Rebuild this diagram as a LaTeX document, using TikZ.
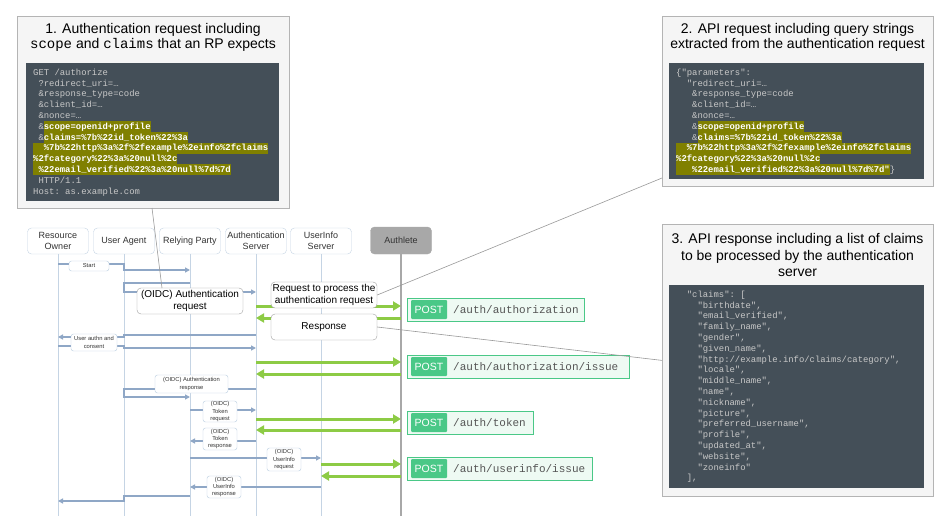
\documentclass[tikz,border=0pt]{standalone}
\usepackage{fontspec}
\setmainfont{Liberation Sans}
\setmonofont{Liberation Mono}
\usetikzlibrary{arrows.meta}
\definecolor{lifec}{HTML}{C5D4E4}
\definecolor{lblc}{HTML}{B8CCE0}
\definecolor{msgc}{HTML}{8FA7C6}
\definecolor{grn}{HTML}{8DCB45}
\definecolor{postc}{HTML}{4AC887}
\definecolor{postbg}{HTML}{EEFAF3}
\definecolor{codebg}{HTML}{444F58}
\definecolor{codetx}{HTML}{C8C8C8}
\definecolor{hlc}{HTML}{808000}
\definecolor{calbg}{HTML}{F5F5F5}
\definecolor{calbd}{HTML}{B4B4B4}
\definecolor{alc}{HTML}{A8A8A8}
\definecolor{txt}{HTML}{333333}
\definecolor{pathtx}{HTML}{555555}
\newcommand\cst{\rule[-2.75pt]{0pt}{10.8pt}}
\newcommand\hlt[1]{{\setlength{\fboxsep}{0pt}\colorbox{hlc}{\cst\textcolor{white}{\bfseries #1}}}}
\newcommand\cind[1]{\hspace*{#1\dimexpr0.6em\relax}}
\begin{document}
\begin{tikzpicture}[x=1pt,y=-1pt,
  part/.style={draw=lifec,fill=white,rounded corners=4pt,minimum width=61pt,minimum height=26pt,align=center,font=\fontsize{9}{10.5}\selectfont,text=txt,inner sep=1pt},
  life/.style={draw=lifec,line width=0.8pt},
  alife/.style={draw=alc,line width=2.5pt},
  msg/.style={draw=msgc,line width=1.8pt,-{Triangle[length=5pt,width=5pt]}},
  gmsg/.style={draw=grn,line width=3pt,-{Triangle[length=8pt,width=9pt]}},
  lbl/.style={draw=lblc,fill=white,rounded corners=2.5pt,align=center,font=\fontsize{5.8}{7.3}\selectfont,text=txt,inner sep=0.5pt},
  biglbl/.style={draw=gray!75,fill=white,rounded corners=4pt,align=center,font=\fontsize{10}{12}\selectfont,text=black,inner sep=1pt,minimum width=106pt,minimum height=26pt},
  postbox/.style={draw=postc,fill=postbg,line width=0.8pt,minimum height=23pt,anchor=west,inner sep=0pt},
  posttag/.style={fill=postc,text=white,font=\fontsize{10.5}{12}\selectfont,minimum width=36pt,minimum height=19pt,inner sep=0pt,rounded corners=1pt},
  postpath/.style={anchor=west,inner sep=0pt,font=\ttfamily\fontsize{11}{13}\selectfont,text=pathtx},
  pointer/.style={draw=gray!80,line width=0.6pt},
  callout/.style={draw=calbd,fill=calbg,line width=0.8pt,anchor=north west,inner sep=0pt},
  codebox/.style={fill=codebg,anchor=north west,inner sep=0pt},
  code/.style={anchor=north west,inner sep=0pt,align=left,font=\ttfamily\fontsize{8.9}{10.8}\selectfont,text=codetx},
  title/.style={align=center,font=\fontsize{14}{15}\selectfont,text=black,inner sep=0pt}
]
\fill[white] (0,0) rectangle (951,516);
\useasboundingbox (0,0) rectangle (951,516);

% participants
\node[part] (ro) at (58,241) {Resource\\Owner};
\node[part] (ua) at (124,241) {User Agent};
\node[part] (rp) at (190,241) {Relying Party};
\node[part] (as) at (256,241) {Authentication\\Server};
\node[part] (ui) at (321,241) {UserInfo\\Server};
\node[part,fill=alc,draw=alc,minimum height=27pt] (al) at (401,240.5) {Authlete};

% lifelines
\coordinate (roB) at (58,516);
\coordinate (uaB) at (124,516);
\coordinate (rpB) at (190,516);
\coordinate (asB) at (256,516);
\coordinate (uiB) at (321,516);
\coordinate (alB) at (401,516);
\draw[life] (ro.south) -- (roB);
\draw[life] (ua.south) -- (uaB);
\draw[life] (rp.south) -- (rpB);
\draw[life] (as.south) -- (asB);
\draw[life] (ui.south) -- (uiB);
\draw[alife] (al.south) -- (alB);

% Start
\coordinate (s1) at (58,264); \coordinate (s2) at (124,264);
\coordinate (s3) at (124,270); \coordinate (s4) at (190,270);
\draw[msg] (s1) -- (s2) -- (s3) -- (s4);
% Authentication request
\coordinate (a1) at (190,283); \coordinate (a2) at (124,283);
\coordinate (a3) at (124,292); \coordinate (a4) at (256,292);
\draw[msg] (a1) -- (a2) -- (a3) -- (a4);
% green 1
\coordinate (g1a) at (256,306); \coordinate (g1b) at (401,306);
\coordinate (g1c) at (401,318); \coordinate (g1d) at (256,318);
\draw[gmsg] (g1a) -- (g1b);
\draw[gmsg] (g1c) -- (g1d);
% user authn and consent
\coordinate (u1) at (256,335); \coordinate (u2) at (124,335);
\coordinate (u3) at (124,337); \coordinate (u4) at (58,337);
\draw[msg] (u1) -- (u2) -- (u3) -- (u4);
\coordinate (v1) at (58,346); \coordinate (v2) at (124,346);
\coordinate (v3) at (124,348); \coordinate (v4) at (256,348);
\draw[msg] (v1) -- (v2) -- (v3) -- (v4);
% green 2
\coordinate (g2a) at (256,362); \coordinate (g2b) at (401,362);
\coordinate (g2c) at (401,374); \coordinate (g2d) at (256,374);
\draw[gmsg] (g2a) -- (g2b);
\draw[gmsg] (g2c) -- (g2d);
% authentication response
\coordinate (r1) at (256,389); \coordinate (r2) at (124,389);
\coordinate (r3) at (124,397); \coordinate (r4) at (190,397);
\draw[msg] (r1) -- (r2) -- (r3) -- (r4);
% token request
\coordinate (t1) at (190,410); \coordinate (t2) at (256,410);
\draw[msg] (t1) -- (t2);
% green 3
\coordinate (g3a) at (256,419); \coordinate (g3b) at (401,419);
\coordinate (g3c) at (401,430); \coordinate (g3d) at (256,430);
\draw[gmsg] (g3a) -- (g3b);
\draw[gmsg] (g3c) -- (g3d);
% token response
\coordinate (tr1) at (256,441); \coordinate (tr2) at (190,441);
\draw[msg] (tr1) -- (tr2);
% userinfo request
\coordinate (q1) at (190,458); \coordinate (q2) at (321,458);
\draw[msg] (q1) -- (q2);
% green 4
\coordinate (g4a) at (321,464); \coordinate (g4b) at (401,464);
\coordinate (g4c) at (401,476); \coordinate (g4d) at (321,476);
\draw[gmsg] (g4a) -- (g4b);
\draw[gmsg] (g4c) -- (g4d);
% userinfo response
\coordinate (qr1) at (321,487); \coordinate (qr2) at (190,487);
\draw[msg] (qr1) -- (qr2);
% final
\coordinate (f1) at (190,496); \coordinate (f2) at (124,496);
\coordinate (f3) at (124,501); \coordinate (f4) at (58,501);
\draw[msg] (f1) -- (f2) -- (f3) -- (f4);

% small labels
\node[lbl,minimum width=40pt,minimum height=10pt] (lstart) at (89,266) {Start};
\node[lbl,minimum width=46pt,minimum height=17pt] (lauthn) at (94,342.5) {User authn and\\consent};
\node[lbl,minimum width=73pt,minimum height=18pt] (lares) at (191.5,384) {(OIDC) Authentication\\response};
\node[lbl,minimum width=34pt,minimum height=21pt] (ltreq) at (220,411.5) {(OIDC)\\Token\\request};
\node[lbl,minimum width=34pt,minimum height=22pt] (ltres) at (220,439) {(OIDC)\\Token\\response};
\node[lbl,minimum width=34pt,minimum height=23pt] (luireq) at (284,459.5) {(OIDC)\\UserInfo\\request};
\node[lbl,minimum width=34pt,minimum height=22pt] (luires) at (224,487) {(OIDC)\\UserInfo\\response};

% big labels
\node[biglbl] (areq) at (190,301) {(OIDC) Authentication\\request};
\node[biglbl] (rqp) at (324,295) {Request to process the\\authentication request};
\node[biglbl] (resp) at (324,327) {Response};

% POST boxes
\node[postbox,minimum width=177pt] (p1) at (407,309.5) {};
\node[posttag] (p1t) at (429,309.5) {POST};
\node[postpath] (p1p) at (453,309.5) {/auth/authorization};
\node[postbox,minimum width=222pt] (p2) at (407,366.5) {};
\node[posttag] (p2t) at (429,366.5) {POST};
\node[postpath] (p2p) at (453,366.5) {/auth/authorization/issue};
\node[postbox,minimum width=126pt] (p3) at (407,422.5) {};
\node[posttag] (p3t) at (429,422.5) {POST};
\node[postpath] (p3p) at (453,422.5) {/auth/token};
\node[postbox,minimum width=185pt] (p4) at (407,468.5) {};
\node[posttag] (p4t) at (429,468.5) {POST};
\node[postpath] (p4p) at (453,468.5) {/auth/userinfo/issue};

% callouts
\node[callout,minimum width=272pt,minimum height=192pt] (call1) at (17,16) {};
\node[callout,minimum width=271pt,minimum height=170pt] (call2) at (662,16) {};
\node[callout,minimum width=271pt,minimum height=272pt] (call3) at (662,224) {};

% pointers
\coordinate (areqtop) at (162,288);
\coordinate (c1bot) at (152,208);
\coordinate (c2pt) at (662,178);
\draw[pointer] (c1bot) -- (areqtop);
\draw[pointer] (rqp.east) -- (c2pt);
\draw[pointer] (resp.east) -- (call3.west);

% callout 1 contents
\node[title] (tt1) at (153,37.6) {1. Authentication request including\\\texttt{scope} and \texttt{claims} that an RP expects};
\node[codebox,minimum width=253pt,minimum height=138pt] (cb1) at (26,63) {};
\node[code] (code1) at (33,67) {\cst GET /authorize\\
\cind{1}?redirect\_uri=…\\
\cind{1}\&response\_type=code\\
\cind{1}\&client\_id=…\\
\cind{1}\&nonce=…\\
\cind{1}\&\hlt{scope=openid+profile}\\
\cind{1}\&\hlt{claims=\%7b\%22id\_token\%22\%3a}\\
\hlt{\cind{2}\%7b\%22http\%3a\%2f\%2fexample\%2einfo\%2fclaims}\\
\hlt{\%2fcategory\%22\%3a\%20null\%2c}\\
\hlt{\cind{1}\%22email\_verified\%22\%3a\%20null\%7d\%7d}\\
\cind{1}HTTP/1.1\\
Host: as.example.com};

% callout 2 contents
\node[title] (tt2) at (797.5,37.6) {2. API request including query strings\\extracted from the authentication request};
\node[codebox,minimum width=255pt,minimum height=116pt] (cb2) at (669,63) {};
\node[code] (code2) at (676,67) {\cst\{"parameters":\\
\cind{2}"redirect\_uri=…\\
\cind{3}\&response\_type=code\\
\cind{3}\&client\_id=…\\
\cind{3}\&nonce=…\\
\cind{3}\&\hlt{scope=openid+profile}\\
\cind{3}\&\hlt{claims=\%7b\%22id\_token\%22\%3a}\\
\hlt{\cind{2}\%7b\%22http\%3a\%2f\%2fexample\%2einfo\%2fclaims}\\
\hlt{\%2fcategory\%22\%3a\%20null\%2c}\\
\hlt{\cind{3}\%22email\_verified\%22\%3a\%20null\%7d\%7d"}\}};

% callout 3 contents
\node[title,font=\fontsize{14}{16.5}\selectfont] (tt3) at (797.5,255) {3. API response including a list of claims\\to be processed by the authentication\\server};
\node[codebox,minimum width=255pt,minimum height=203pt] (cb3) at (669,285) {};
\node[code] (code3) at (676,289) {\cst\cind{2}"claims": [\\
\cind{4}"birthdate",\\
\cind{4}"email\_verified",\\
\cind{4}"family\_name",\\
\cind{4}"gender",\\
\cind{4}"given\_name",\\
\cind{4}"http://example.info/claims/category",\\
\cind{4}"locale",\\
\cind{4}"middle\_name",\\
\cind{4}"name",\\
\cind{4}"nickname",\\
\cind{4}"picture",\\
\cind{4}"preferred\_username",\\
\cind{4}"profile",\\
\cind{4}"updated\_at",\\
\cind{4}"website",\\
\cind{4}"zoneinfo"\\
\cind{2}],};
\end{tikzpicture}
\end{document}
